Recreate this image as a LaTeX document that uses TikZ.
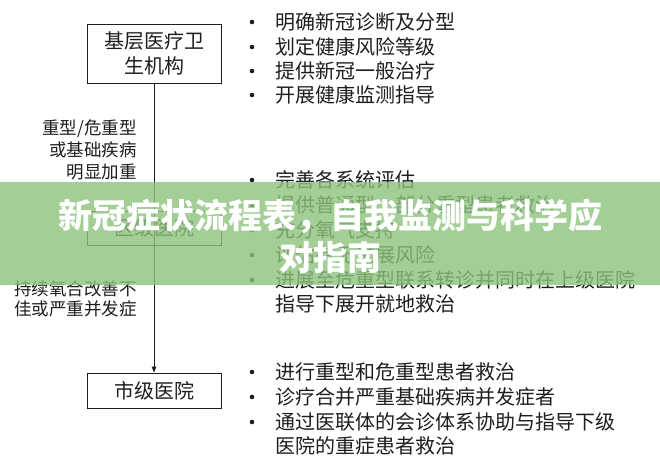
\documentclass[tikz,border=0pt]{standalone}
\usepackage{fontspec}
\setmainfont{Noto Sans CJK SC}
\setsansfont{Liberation Sans}
\usetikzlibrary{arrows.meta}
\definecolor{bannergreen}{RGB}{140,195,126}
\definecolor{ink}{RGB}{30,30,30}
\begin{document}
\begin{tikzpicture}[x=1pt,y=-1pt,
  box/.style={draw=ink, line width=0.9pt, minimum width=134pt, align=center,
    font=\fontsize{20}{25}\selectfont, text=ink, inner sep=0pt},
  item/.style={anchor=west, font=\fontsize{20}{24}\selectfont, text=ink, inner sep=0pt},
  bul/.style={circle, fill=ink, inner sep=0pt, minimum size=4.6pt},
  lab/.style={anchor=east, align=right, text=ink, inner sep=0pt},
  conn/.style={draw=ink, line width=0.8pt, -{Triangle[length=6pt,width=4.6pt]}}
]
\useasboundingbox (0,0) rectangle (660,469);
\fill[white] (0,0) rectangle (660,469);

% boxes
\node[box, minimum height=59pt] (b1) at (154,53.5) {基层医疗卫\\生机构};
\node[box, minimum height=34pt] (b2) at (154.5,228) {区级医院};
\node[box, minimum height=35pt] (b3) at (154,390.5) {市级医院};
\draw[conn] (b1.south) -- (b3.north);

% left labels
\node[lab, font=\fontsize{17.5}{22}\selectfont] (l1) at (137,150) {重型/危重型\\或基础疾病\\明显加重};
\node[lab, font=\fontsize{17.5}{20}\selectfont] (l2) at (137,299) {持续氧合改善不\\佳或严重并发症};

% top group
\node[bul] (d1) at (252,22) {}; \node[item] (t1) at (275,22) {明确新冠诊断及分型};
\node[bul] (d2) at (252,47) {}; \node[item] (t2) at (275,47) {划定健康风险等级};
\node[bul] (d3) at (252,71) {}; \node[item] (t3) at (275,71) {提供新冠一般治疗};
\node[bul] (d4) at (252,95) {}; \node[item] (t4) at (275,95) {开展健康监测指导};

% middle group
\node[bul] (m1) at (252,180) {}; \node[item] (u1) at (275,180) {完善各系统评估};
\node[bul] (m2) at (252,205) {}; \node[item] (u2) at (275,205) {提供普通型、部分重型患者救治};
\node[bul] (m3) at (252,230) {}; \node[item] (u3) at (275,230) {充分氧气支持};
\node[bul] (m4) at (252,255) {}; \node[item] (u4) at (275,255) {评估有无进展风险};
\node[bul] (m5) at (252,280) {}; \node[item] (u5) at (275,280) {进展至危重型联系转诊并同时在上级医院};
\node[item] (u6) at (275,304) {指导下展开就地救治};

% bottom group
\node[bul] (n1) at (252,372) {}; \node[item] (v1) at (275,372) {进行重型和危重型患者救治};
\node[bul] (n2) at (252,397) {}; \node[item] (v2) at (275,397) {诊疗合并严重基础疾病并发症者};
\node[bul] (n3) at (252,422) {}; \node[item] (v3) at (275,422) {通过医联体的会诊体系协助与指导下级};
\node[item] (v4) at (275,446) {医院的重症患者救治};

% banner
\fill[bannergreen, opacity=0.8] (0,182) rectangle (660,285);
\node[text=white, align=center, inner sep=0pt, font=\fontsize{34}{42}\bfseries\selectfont] (title) at (330,236) {新冠症状流程表，自我监测与科学应\\对指南};
\end{tikzpicture}
\end{document}
